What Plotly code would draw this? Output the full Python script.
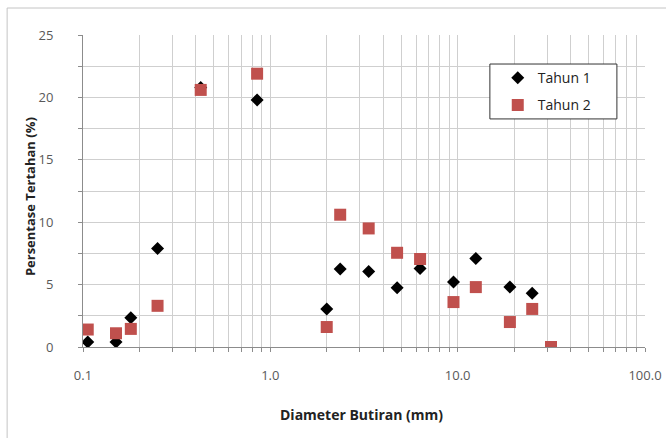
import plotly.graph_objects as go

# Sieve sizes (mm)
diam_t1 = [0.106, 0.15, 0.18, 0.25, 0.425, 0.85, 2.0, 2.36, 3.35, 4.75, 6.3, 9.5, 12.5, 19.0, 25.0]
pct_t1 = [0.4, 0.4, 2.35, 7.9, 20.8, 19.8, 3.05, 6.25, 6.05, 4.75, 6.3, 5.2, 7.1, 4.8, 4.3]

diam_t2 = [0.106, 0.15, 0.18, 0.25, 0.425, 0.85, 2.0, 2.36, 3.35, 4.75, 6.3, 9.5, 12.5, 19.0, 25.0, 31.5]
pct_t2 = [1.4, 1.1, 1.45, 3.3, 20.6, 21.9, 1.6, 10.6, 9.5, 7.55, 7.05, 3.6, 4.8, 2.0, 3.05, 0.0]

x_labels = {0.1: "0.1", 1: "1.0", 10: "10.0", 100: "100.0"}
y_labels = [0, 5, 10, 15, 20, 25]

x_title = "Diameter Butiran (mm)"
y_title = "Persentase Tertahan (%)"

x_tickvals = []
x_ticktext = []
for dec in [0.1, 1, 10]:
    for m in range(1, 10):
        v = round(dec * m, 6)
        x_tickvals.append(v)
        x_ticktext.append(x_labels.get(v, ""))
x_tickvals.append(100)
x_ticktext.append(x_labels[100])

y_tickvals = [i * 2.5 for i in range(11)]
y_ticktext = [str(int(v)) if v in y_labels else "" for v in y_tickvals]

fig = go.Figure()
fig.add_trace(go.Scatter(
    x=diam_t1, y=pct_t1, mode="markers", name="Tahun 1", legendgroup="a",
    marker=dict(symbol="diamond", size=10, color="black"),
))
fig.add_trace(go.Scatter(
    x=diam_t2, y=pct_t2, mode="markers", name="Tahun 2", legendgroup="b",
    marker=dict(symbol="square", size=12, color="#c0504d"),
))

font_family = "Open Sans, Liberation Sans, sans-serif"

fig.update_layout(
    width=666, height=438,
    margin=dict(l=83, r=21, t=35, b=91, autoexpand=False),
    paper_bgcolor="white", plot_bgcolor="white",
    font=dict(family=font_family, color="#595959", size=13),
    showlegend=True,
    legend=dict(
        x=0.738, y=0.913, xanchor="left", yanchor="top",
        borderwidth=0, bgcolor="rgba(0,0,0,0)",
        tracegroupgap=6,
        font=dict(size=14, color="#222222"),
        itemwidth=30,
    ),
    xaxis=dict(
        type="log", range=[-1, 2], automargin=False,
        tickvals=x_tickvals, ticktext=x_ticktext,
        showgrid=True, gridcolor="#cfcfcf", gridwidth=1,
        showline=True, linecolor="#8c8c8c", linewidth=1,
        ticks="outside", ticklen=4, tickcolor="#8c8c8c",
        ticklabelstandoff=12,
        tickfont=dict(size=13, color="#595959"),
        zeroline=False,
    ),
    yaxis=dict(
        range=[0, 25], automargin=False,
        tickvals=y_tickvals, ticktext=y_ticktext,
        showgrid=True, gridcolor="#cfcfcf", gridwidth=1,
        showline=True, linecolor="#8c8c8c", linewidth=1,
        ticks="outside", ticklen=4, tickcolor="#8c8c8c",
        ticklabelstandoff=22,
        tickfont=dict(size=13, color="#595959"),
        zeroline=False,
    ),
    annotations=[
        dict(
            text="<b>" + y_title + "</b>", textangle=-90,
            xref="paper", yref="paper", x=-0.094, y=0.481,
            xanchor="center", yanchor="middle", showarrow=False,
            font=dict(size=13, color="#222222"),
        ),
        dict(
            text="<b>" + x_title + "</b>",
            xref="paper", yref="paper", x=0.495, y=-0.217,
            xanchor="center", yanchor="middle", showarrow=False,
            font=dict(size=14, color="#222222"),
        ),
    ],
    shapes=[
        dict(
            type="rect", xref="paper", yref="paper",
            x0=-0.135, x1=1.06, y0=-0.31, y1=1.0865,
            line=dict(color="#c4c4c4", width=1), fillcolor="rgba(0,0,0,0)", layer="above",
        ),
        dict(
            type="rect", xref="paper", yref="paper",
            x0=0.724, x1=0.950, y0=0.731, y1=0.907,
            line=dict(color="#333333", width=1), fillcolor="white", layer="above",
        ),
    ],
)

fig.write_html("out.html", config={"displayModeBar": False},
               post_script="document.body.style.margin='0';")
